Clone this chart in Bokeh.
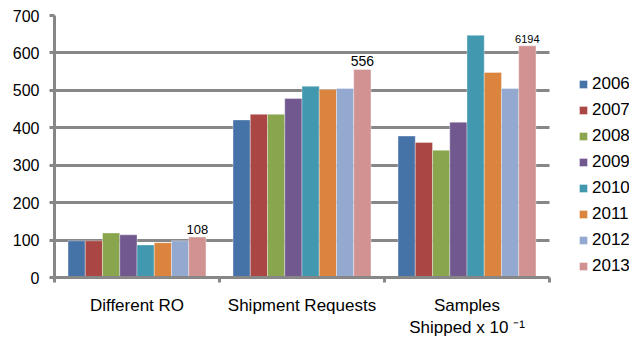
from bokeh.plotting import figure
from bokeh.models import Range1d, FixedTicker, Legend, LegendItem, ColumnDataSource
from bokeh.core.properties import value
from bokeh.embed import file_html
from bokeh.resources import INLINE

categories = ["Different RO", "Shipment Requests", "Samples\nShipped x 10 \u207b\u00b9"]
years = ["2006", "2007", "2008", "2009", "2010", "2011", "2012", "2013"]
v2006 = [98, 421, 378]
v2007 = [98, 436, 361]
v2008 = [119, 436, 340]
v2009 = [114, 478, 415]
v2010 = [87, 511, 647]
v2011 = [93, 502, 548]
v2012 = [98, 505, 505]
v2013 = [108, 556, 619]
series = [v2006, v2007, v2008, v2009, v2010, v2011, v2012, v2013]
label_texts = ["108", "556", "6194"]
y_ticks = [0, 100, 200, 300, 400, 500, 600, 700]

colors = ["#4572A7", "#AA4643", "#89A54E", "#71588F", "#4198AF", "#DB843D", "#93A9CF", "#D19392"]
FONT = "Liberation Sans"
GRID = "#878787"

# frame spans the legend area too; the category area covers 0..3 (495 px of 575)
n_cat = len(categories)
x_end = n_cat * 575 / 495
p = figure(width=634, height=341, output_backend="svg", toolbar_location=None,
           x_range=Range1d(0, x_end), y_range=Range1d(0, 700),
           min_border_left=54, min_border_right=5, min_border_top=15, min_border_bottom=64)
p.outline_line_color = None
p.xgrid.grid_line_color = None
p.ygrid.grid_line_color = GRID
p.ygrid.grid_line_width = 3
p.ygrid.ticker = FixedTicker(ticks=y_ticks)
p.ygrid.cross_bounds = (0, n_cat)

bar_w = 0.1045
start = (1 - bar_w * len(years)) / 2
items = []
for i, (yr, vals) in enumerate(zip(years, series)):
    xs = [c + start + bar_w * (i + 0.5) for c in range(n_cat)]
    src = ColumnDataSource(dict(x=xs, top=vals))
    r = p.vbar(x="x", top="top", width=bar_w, bottom=0, source=src,
               fill_color=colors[i], line_color="white", line_width=0.6, line_alpha=0.6)
    items.append(LegendItem(label=yr, renderers=[r]))

# data labels on the 2013 series
last_x = [c + start + bar_w * (len(years) - 0.5) for c in range(n_cat)]
lsrc = ColumnDataSource(dict(x=last_x, y=v2013, t=label_texts, s=["13px", "14px", "11px"]))
p.text(x="x", y="y", text="t", source=lsrc, text_align="center", text_baseline="bottom",
       y_offset=-3, text_font=value(FONT), text_font_size="s", text_color="#000000")

# axes
p.yaxis.ticker = FixedTicker(ticks=y_ticks)
p.yaxis.axis_line_color = GRID
p.yaxis.axis_line_width = 3
p.yaxis.major_tick_line_color = GRID
p.yaxis.major_tick_line_width = 3
p.yaxis.major_tick_out = 5
p.yaxis.major_tick_in = 0
p.yaxis.minor_tick_line_color = None
p.yaxis.major_label_standoff = 10
p.yaxis.major_label_text_font = FONT
p.yaxis.major_label_text_font_size = "16px"
p.yaxis.major_label_text_color = "#000000"

p.xaxis.bounds = (0, n_cat)
p.xaxis.ticker = FixedTicker(ticks=[0.5, 1.5, 2.5], minor_ticks=[0, 1, 2, 3])
p.xaxis.major_label_overrides = {0.5: categories[0], 1.5: categories[1], 2.5: categories[2]}
p.xaxis.axis_line_color = GRID
p.xaxis.axis_line_width = 3
p.xaxis.major_tick_line_color = None
p.xaxis.major_tick_out = 0
p.xaxis.major_tick_in = 0
p.xaxis.minor_tick_line_color = GRID
p.xaxis.minor_tick_line_width = 3
p.xaxis.minor_tick_out = 5
p.xaxis.minor_tick_in = 0
p.xaxis.major_label_standoff = 13
p.xaxis.major_label_text_font = FONT
p.xaxis.major_label_text_font_size = "17px"
p.xaxis.major_label_text_color = "#000000"

legend = Legend(items=items, location=(524, 1), orientation="vertical",
                glyph_width=10, glyph_height=10, label_height=20, label_standoff=4,
                spacing=6, padding=0, margin=0, border_line_color=None,
                background_fill_alpha=0, label_text_font=FONT,
                label_text_font_size="17px", label_text_color="#000000")
p.add_layout(legend, "center")

open("out.html", "w").write(file_html(p, INLINE))
